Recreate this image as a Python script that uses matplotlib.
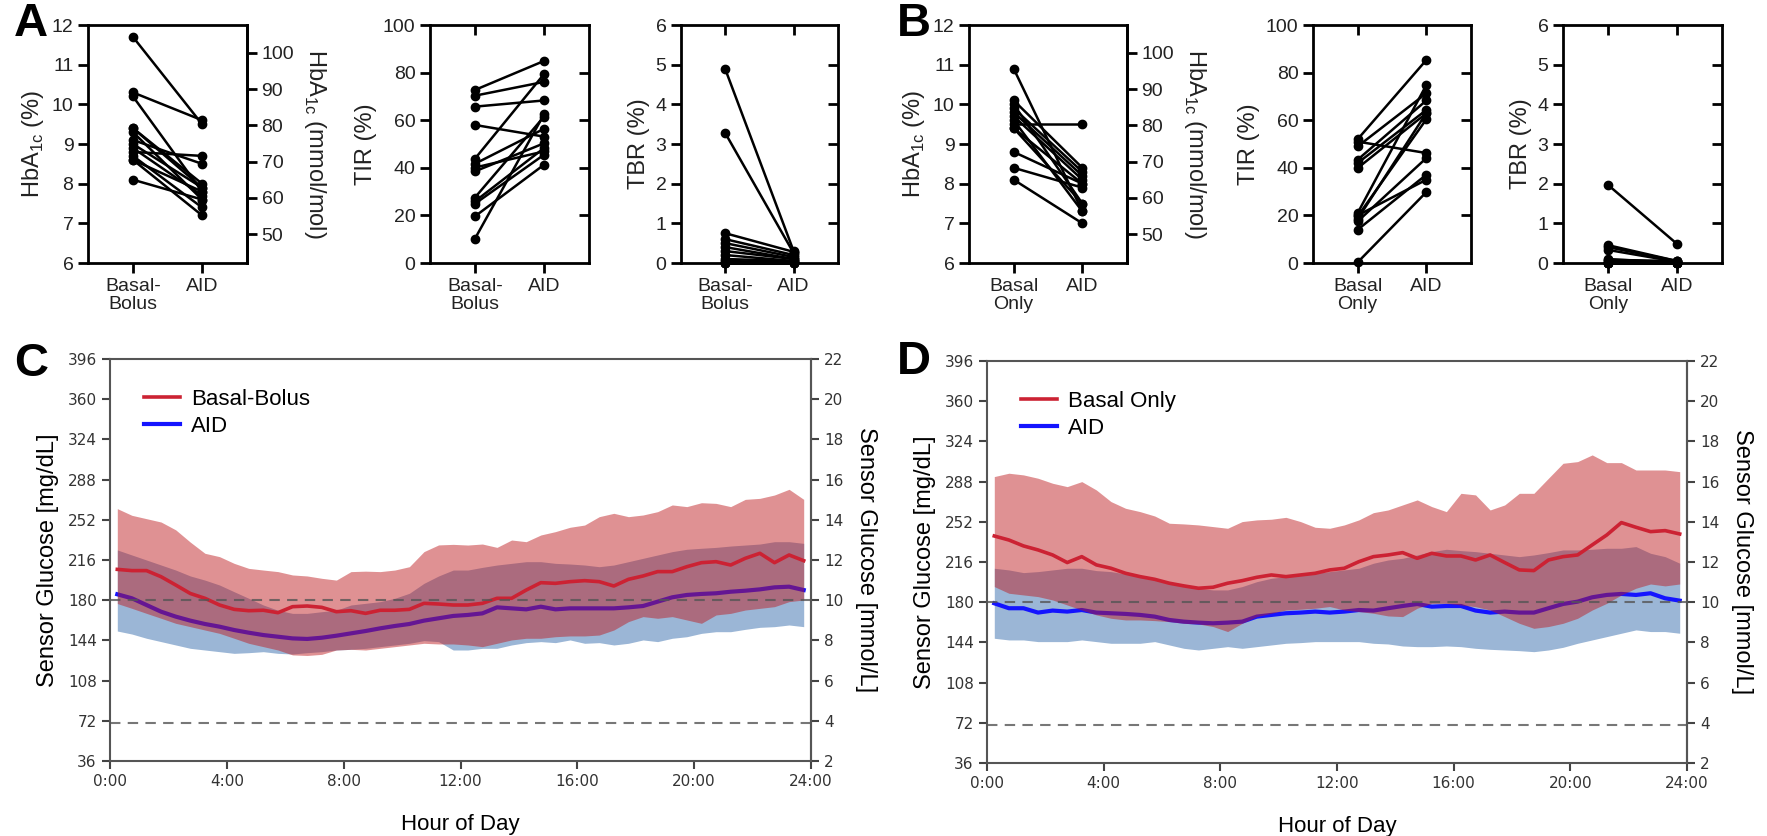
import numpy as np
import matplotlib
matplotlib.use("Agg")
import matplotlib.pyplot as plt

plt.rcParams['font.family'] = ['Liberation Sans', 'DejaVu Sans']
plt.rcParams['mathtext.fontset'] = 'custom'
plt.rcParams['mathtext.rm'] = 'Liberation Sans'

# ---- paired panels (A: basal-bolus vs AID, B: basal only vs AID) ----
a_hba_pre = [11.7, 10.3, 10.2, 9.4, 9.3, 9.1, 9.0, 8.9, 8.8, 8.7, 8.6, 8.6, 8.1, 9.4]
a_hba_aid = [9.5, 9.6, 7.8, 8.0, 7.6, 8.5, 7.9, 7.7, 8.7, 7.4, 7.2, 7.8, 7.6, 7.9]
a_tir_pre = [72.7, 70.3, 65.7, 58.0, 43.8, 41.7, 40.1, 38.5, 27.5, 25.9, 24.9, 19.6, 10.2]
a_tir_aid = [84.9, 76.1, 68.3, 53.1, 79.4, 56.4, 46.9, 50.3, 61.5, 48.3, 45.5, 41.3, 62.5]
a_tbr_pre = [4.88, 3.27, 0.75, 0.6, 0.5, 0.4, 0.3, 0.2, 0.1, 0.05, 0, 0, 0, 0]
a_tbr_aid = [0.3, 0.25, 0.28, 0.2, 0.15, 0.1, 0.1, 0.05, 0.05, 0.02, 0, 0, 0, 0]

b_hba_pre = [10.9, 10.1, 10.0, 9.9, 9.8, 9.7, 9.5, 9.4, 9.4, 8.8, 8.4, 8.1, 9.6]
b_hba_aid = [7.3, 8.4, 7.5, 8.3, 8.2, 8.1, 9.5, 7.5, 8.0, 8.0, 7.9, 7.0, 7.3]
b_tir_pre = [52, 51, 49, 43.4, 42, 39.9, 21, 19.6, 18.5, 17.5, 14.0, 0.3, 20]
b_tir_aid = [85.3, 46.2, 71.3, 68.3, 64.3, 62.9, 74.8, 60.4, 63, 44.1, 37.1, 29.8, 35]
b_tbr_pre = [1.97, 0.45, 0.4, 0.33, 0.1, 0.08, 0.05, 0, 0, 0, 0, 0, 0]
b_tbr_aid = [0.48, 0.05, 0.05, 0.03, 0, 0.05, 0, 0, 0.02, 0, 0, 0, 0]

cats_a = ["Basal-\nBolus", "AID"]
cats_b = ["Basal\nOnly", "AID"]

# ---- CGM profiles (mg/dL), half-hour bins ----
hours = np.arange(0.25, 24, 0.5)

c_red_hi = [262, 256, 253, 250, 243, 232, 222, 219, 213, 208.5, 207, 205.6, 202.6, 201.7, 199.6, 198, 205.6, 206, 205.6, 207, 210, 223.5, 229.5, 230,
            229.4, 230.3, 227.3, 233.9, 232.4, 238.4, 241.4, 245.3, 247.3, 254.8, 257.8, 254.8, 256.3, 259.3, 265.3, 263.8, 267.3, 266.7, 263.8, 270.3, 271.2, 274.2, 279.3, 270.3]
c_red_mid = [207.6, 206.5, 206.5, 201, 193.6, 186, 181.7, 175.7, 171.8, 170.6, 171, 168.8, 174.2, 174.8, 173.6, 169.7, 170.6, 168.2, 171, 171, 171.8, 177.2, 176.6, 175.7,
             175.7, 177.2, 181.7, 181.7, 189.1, 195.7, 195.1, 196.6, 197.5, 196.6, 192.7, 198.7, 201.7, 205.6, 205.6, 210, 213.6, 214.5, 211.5, 217.5, 222, 213.6, 220.5, 215.4]
c_red_lo = [177, 172.7, 168.2, 163.8, 159.3, 156.3, 153.3, 150.3, 145.9, 141.4, 138.4, 135.4, 131, 130.5, 131.5, 135.4, 136, 135.4, 136.9, 138.4, 139.9, 141.4, 140.8, 140.8,
            139.9, 138.4, 141.4, 144.4, 145.9, 145.9, 147.3, 148, 148, 148.8, 153.3, 160.8, 165.3, 163.8, 165.3, 162.3, 159.3, 166.8, 168.2, 171.2, 172.7, 174.2, 178.7, 180.2]
c_blue_hi = [225, 220.5, 216, 211.5, 207, 201.7, 198, 193.6, 187.6, 181.7, 175.7, 171, 168.2, 168.2, 169.7, 171, 175.7, 177.2, 178.7, 181.7, 186.2, 195.1, 201.7, 207,
             207, 209.4, 211.5, 213, 214.5, 214.5, 213, 212.4, 211.5, 210, 211.5, 214.5, 217.5, 220.5, 223.5, 225.6, 226.5, 227.3, 228.5, 229.4, 230.3, 232.4, 232.4, 230.9]
c_blue_mid = [185.3, 181.7, 175.7, 169.7, 165.3, 161.7, 158.7, 156.3, 153.3, 150.9, 148.8, 147.3, 145.8, 145.3, 146.4, 148.2, 150.3, 152.4, 154.8, 156.9, 158.7, 161.7, 163.8, 165.9,
              166.8, 168.2, 173.6, 172.7, 171.8, 174.2, 171.8, 172.7, 172.7, 172.7, 172.7, 173.6, 174.8, 178.7, 182.6, 184.7, 185.6, 186.2, 187.6, 188.5, 189.7, 191.5, 192.1, 189.1]
c_blue_lo = [152.4, 149.7, 145.9, 142.9, 139.9, 136.9, 135.4, 133.9, 132.4, 133, 133.9, 132.4, 131.8, 133, 133.9, 135.4, 136, 136.9, 138.4, 139.9, 141.4, 143.8, 142.9, 135.4,
             135.4, 136.9, 136.9, 139.9, 142, 142.9, 142, 144.4, 141.4, 142, 139.9, 141.4, 144.4, 142.9, 145.9, 147.3, 150.3, 151.8, 151.8, 153.9, 155.7, 156.3, 157.8, 156.3]

d_red_hi = [292.5, 295.5, 294, 291, 286.5, 283.5, 288, 280.5, 270.1, 264.1, 261.1, 257.2, 250.7, 250.1, 249.2, 247.7, 246.2, 252.2, 253.7, 254.3, 256, 252.2, 247.1, 246.2,
            249.2, 253.7, 260.2, 262.6, 267.1, 271.6, 265.6, 261.1, 277.5, 276.1, 262.6, 267.1, 277.5, 277.5, 291, 304.4, 305.9, 311.9, 305, 305, 298.4, 298.4, 298.4, 296.9]
d_red_mid = [239.3, 235.7, 230.4, 226.8, 222.3, 215.5, 220.8, 213.4, 210.4, 205.9, 202.9, 200.5, 197, 194.6, 192.5, 193.4, 197, 199.3, 202.3, 204.4, 202.9, 204.4, 205.9, 208.9,
             210.4, 216.3, 220.8, 222.3, 224.4, 219.3, 223.8, 221.4, 221.4, 217.8, 222.3, 215.5, 208.9, 208.3, 217.8, 220.8, 222.3, 231.3, 240.2, 251.3, 247.1, 243.2, 244.1, 241.1]
d_red_lo = [194, 188, 186.5, 185, 182, 177.5, 173, 168.6, 165.6, 164.1, 164.1, 163.5, 162.6, 161.1, 160.5, 158.2, 153.7, 161.1, 167.1, 170.1, 173, 173.7, 174.6, 176.1,
            173, 171.6, 170.1, 167.7, 167.1, 174.6, 179, 179, 177.5, 176, 173, 167.1, 161.1, 156.6, 158.2, 161.1, 165.6, 173, 179, 186.5, 192.5, 196.3, 194.6, 196.3]
d_blue_hi = [210.4, 208.9, 206.5, 207.4, 208.9, 210.4, 210.4, 208.3, 207.4, 205.3, 202.9, 199.9, 196.3, 194, 192.5, 191, 191, 194, 198.4, 201.4, 202.9, 204.4, 205.9, 207.4,
             208.9, 210.4, 214.9, 217.8, 219.3, 222.3, 225.3, 227.4, 226.2, 225.3, 223.8, 222.3, 220.8, 222.3, 224.4, 226.8, 226.8, 227.4, 228.3, 228.3, 229.8, 223.8, 220.8, 214.9]
d_blue_mid = [179, 174.6, 174.6, 170.7, 172.5, 171.6, 173, 170.7, 170.1, 169.5, 168.6, 167.1, 164.1, 162.6, 161.7, 161.1, 161.7, 162.6, 167.1, 168.6, 170.1, 170.7, 171.6, 170.7,
              171.6, 173, 172.5, 174.6, 176.6, 178.4, 176, 176.6, 176.6, 172.5, 170.7, 171.6, 170.7, 170.7, 174.6, 178.4, 180.5, 184.4, 186.5, 187.4, 186.5, 188, 183.5, 181.4]
d_blue_lo = [147.7, 146.2, 146.2, 144.7, 144.7, 144.7, 146.2, 144.7, 143.2, 143.2, 143.2, 144.7, 141.7, 138.7, 137.2, 138.7, 140.2, 138.7, 140.2, 141.7, 143.2, 143.8, 144.7, 144.7,
             144.7, 144.7, 143.2, 142.6, 140.8, 140.2, 140.2, 140.8, 140.2, 138.7, 137.8, 137.2, 136.6, 135.7, 137.2, 139.6, 143.2, 146.2, 149.2, 152.2, 155.2, 153.7, 153.7, 152.2]

W, H = 1767, 836
fig = plt.figure(figsize=(W / 100, H / 100), dpi=100)


def box(x0, x1, y0, y1):
    return [x0 / W, 1 - y1 / H, (x1 - x0) / W, (y1 - y0) / H]


def paired(rect, pre, post, cats, ylim, yticks, ylabel, hba=False):
    ax = fig.add_axes(rect)
    for p, q in zip(pre, post):
        ax.plot([0, 1], [p, q], '-o', color='black', lw=1.8, ms=6, clip_on=False, zorder=3)
    ax.set_xlim(-0.65, 1.65)
    ax.set_ylim(*ylim)
    ax.set_yticks(yticks)
    ax.set_xticks([0, 1])
    ax.set_xticklabels(cats, fontsize=14, color='#222', linespacing=1.1)
    ax.tick_params(axis='y', labelsize=14, labelcolor='#222')
    ax.tick_params(width=2, length=7, direction='out')
    for s in ax.spines.values():
        s.set_linewidth(2)
    ax.set_ylabel(ylabel, fontsize=17, color='#222', labelpad=4)
    if hba:
        sec = ax.secondary_yaxis('right', functions=(lambda v: (v - 2.15) * 10.929,
                                                      lambda m: m / 10.929 + 2.15))
        sec.set_yticks([50, 60, 70, 80, 90, 100])
        sec.tick_params(width=2, length=7, direction='out', labelsize=14, labelcolor='#222')
        sec.spines['right'].set_linewidth(2)
        sec.set_ylabel(r"HbA$_{\mathrm{1c}}$ (mmol/mol)", fontsize=17, rotation=270, labelpad=24, color='#222')
    else:
        sr = ax.secondary_yaxis('right')
        sr.set_yticks(yticks[1:-1])
        sr.tick_params(width=2, length=7, direction='in', labelright=False)
        st = ax.secondary_xaxis('top')
        st.set_xticks([0, 1])
        st.tick_params(width=2, length=7, direction='in', labeltop=False)
    return ax


hba_label = r"HbA$_{\mathrm{1c}}$ (%)"
paired(box(88, 247, 25, 263), a_hba_pre, a_hba_aid, cats_a, (6, 12), range(6, 13), hba_label, hba=True)
paired(box(430, 589, 25, 263), a_tir_pre, a_tir_aid, cats_a, (0, 100), list(range(0, 101, 20)), "TIR (%)")
paired(box(681, 838, 25, 263), a_tbr_pre, a_tbr_aid, cats_a, (0, 6), list(range(0, 7)), "TBR (%)")
paired(box(969, 1127, 25, 263), b_hba_pre, b_hba_aid, cats_b, (6, 12), range(6, 13), hba_label, hba=True)
paired(box(1313, 1471, 25, 263), b_tir_pre, b_tir_aid, cats_b, (0, 100), list(range(0, 101, 20)), "TIR (%)")
paired(box(1563, 1722, 25, 263), b_tbr_pre, b_tbr_aid, cats_b, (0, 6), list(range(0, 7)), "TBR (%)")

red_band = (190 / 255, 26 / 255, 30 / 255)


def profile(rect, red_lo, red_mid, red_hi, blue_lo, blue_mid, blue_hi, red_name):
    ax = fig.add_axes(rect)
    ax.fill_between(hours, blue_lo, blue_hi, color='#9bb6d6', lw=0, zorder=1)
    lb, = ax.plot(hours, blue_mid, color='#1414ff', lw=3, zorder=2, label='AID')
    ax.fill_between(hours, red_lo, red_hi, color=red_band, alpha=0.48, lw=0, zorder=3)
    lr, = ax.plot(hours, red_mid, color='#cc2233', lw=2.6, zorder=4, label=red_name)
    for y in (180, 70):
        ax.axhline(y, color='#555555', lw=1.5, ls=(0, (5, 3.5)), alpha=0.8, zorder=5)
    ax.set_xlim(0, 24)
    ax.set_ylim(36, 396)
    ax.set_yticks(range(36, 397, 36))
    ax.set_xticks(range(0, 25, 4))
    ax.set_xticklabels([f"{h}:00" for h in range(0, 25, 4)])
    for lab in ax.get_xticklabels() + ax.get_yticklabels():
        lab.set_family('DejaVu Sans')
    ax.tick_params(labelsize=11, labelcolor='#333', width=1.5, length=6, color='#444')
    for s in ax.spines.values():
        s.set_linewidth(1.5)
        s.set_color('#555')
    ax.set_xlabel("Hour of Day", fontsize=16, labelpad=18)
    ax.set_ylabel("Sensor Glucose [mg/dL]", fontsize=17, labelpad=6)
    sec = ax.secondary_yaxis('right', functions=(lambda v: v / 18, lambda m: m * 18))
    sec.set_yticks(range(2, 23, 2))
    sec.tick_params(labelsize=11, labelcolor='#333', width=1.5, length=6, color='#444')
    for lab in sec.get_yticklabels():
        lab.set_family('DejaVu Sans')
    sec.spines['right'].set_linewidth(1.5)
    sec.spines['right'].set_color('#555')
    sec.set_ylabel("Sensor Glucose [mmol/L]", fontsize=17, rotation=270, labelpad=24)
    ax.legend(handles=[lr, lb], loc='upper left', bbox_to_anchor=(0.02, 0.975), frameon=False,
              fontsize=16, handlelength=1.6, handletextpad=0.5, labelspacing=0.25)
    return ax


profile(box(110, 811, 359, 761), c_red_lo, c_red_mid, c_red_hi, c_blue_lo, c_blue_mid, c_blue_hi, "Basal-Bolus")
profile(box(987, 1687, 361, 763), d_red_lo, d_red_mid, d_red_hi, d_blue_lo, d_blue_mid, d_blue_hi, "Basal Only")

for letter, x, y in [("A", 14, 2), ("B", 897, 2), ("C", 14, 342), ("D", 897, 340)]:
    fig.text(x / W, 1 - y / H, letter, fontsize=34, fontweight='bold', va='top', ha='left')

fig.savefig("out.png", dpi=100)
